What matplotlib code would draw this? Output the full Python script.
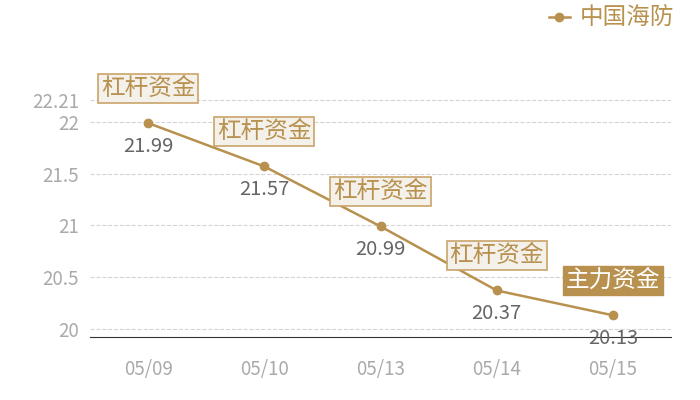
import matplotlib.pyplot as plt

plt.rcParams['font.family'] = ['Noto Sans CJK SC', 'DejaVu Sans']

# 数据
dates = ['05/09', '05/10', '05/13', '05/14', '05/15']
prices = [21.99, 21.57, 20.99, 20.37, 20.13]
tags = ['杠杆资金', '杠杆资金', '杠杆资金', '杠杆资金', '主力资金']
y_ticks = [20, 20.5, 21, 21.5, 22, 22.21]
series_name = '中国海防'

gold = '#b8914f'
x = list(range(len(dates)))

fig = plt.figure(figsize=(7, 4), dpi=100)
ax = fig.add_axes([0.1286, 0.1575, 0.83, 0.6925])

ax.plot(x, prices, color=gold, linewidth=1.8, marker='o', markersize=6,
        label=series_name, zorder=3)

for i, (p, t) in enumerate(zip(prices, tags)):
    ax.annotate(f'{p:.2f}', (i, p), xytext=(0, -9), textcoords='offset points',
                ha='center', va='top', fontsize=14.5, color='#666666', zorder=5)
    if t == '主力资金':
        box = dict(boxstyle='square,pad=0.12', facecolor=gold, edgecolor=gold)
        tc = 'white'
    else:
        box = dict(boxstyle='square,pad=0.12', facecolor='#f4f0ea', edgecolor='#c9a46a',
                   linewidth=1.2)
        tc = gold
    ax.annotate(t, (i, p), xytext=(0, 25), textcoords='offset points',
                ha='center', va='center', fontsize=17, color=tc, bbox=box, zorder=6)

ax.set_xlim(-0.5, len(dates) - 0.5)
ax.set_ylim(19.92, 22.6)
ax.set_xticks(x)
ax.set_xticklabels(dates)
ax.set_yticks(y_ticks)
ax.set_yticklabels(['20', '20.5', '21', '21.5', '22', '22.21'])
ax.tick_params(axis='both', length=0, labelsize=13.5, colors='#aaaaaa')
ax.tick_params(axis='x', pad=16)
ax.tick_params(axis='y', pad=8)
ax.grid(axis='y', color='#d5d5d5', linestyle='--', linewidth=0.8)
for s in ['top', 'right', 'left']:
    ax.spines[s].set_visible(False)
ax.spines['bottom'].set_color('#333333')

fig.legend(loc='upper right', bbox_to_anchor=(0.993, 1.035), frameon=False,
           fontsize=17, labelcolor=gold, handlelength=0.9, handletextpad=0.4)

fig.savefig('out.png', dpi=100)
